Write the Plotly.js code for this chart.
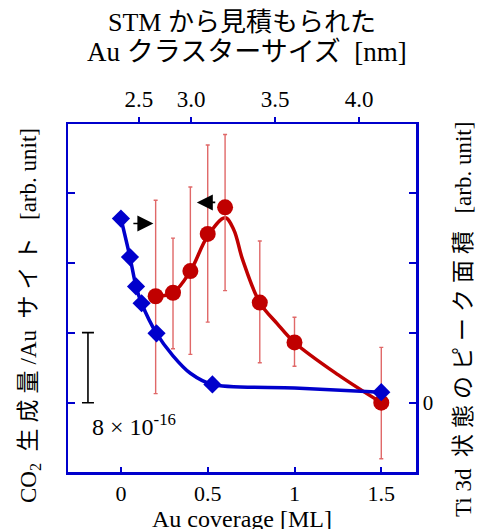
<!DOCTYPE html>
<html>
<head>
<meta charset="utf-8">
<script src="https://cdn.plot.ly/plotly-3.0.1.min.js"></script>
<style>html,body{margin:0;padding:0;background:#fff;}#chart{width:485px;height:529px;}</style>
</head>
<body>
<div id="chart"></div>
<script>
// CO2 production per Au site (red, left axis)
const co2Coverage = [0.2, 0.3, 0.4, 0.5, 0.6, 0.8, 1.0, 1.5];
const co2Value    = [1.52, 1.57, 1.88, 2.41, 2.79, 1.43, 0.86, 0.0];
const co2ErrPlus  = [1.37, 0.78, 1.20, 1.27, 1.04, 0.88, 0.36, 0.79];
const co2ErrMinus = [1.39, 0.80, 1.19, 1.26, 1.19, 0.86, 0.34, 0.80];
// guide curve drawn through the CO2 data
const co2FitCoverage = [0.2, 0.3, 0.4, 0.5, 0.6, 0.65, 0.7, 0.8, 0.9, 1.0, 1.25, 1.5];
const co2FitValue    = [1.52, 1.57, 1.88, 2.38, 2.64, 2.47, 2.05, 1.43, 1.13, 0.86, 0.40, 0.0];
// Ti 3d state peak area (blue, right axis)
const tiCoverage = [0.0, 0.052, 0.087, 0.119, 0.205, 0.527, 1.5];
const tiValue    = [2.63, 2.08, 1.66, 1.42, 0.99, 0.26, 0.15];
const tiFitCoverage = [0.0, 0.052, 0.087, 0.119, 0.205, 0.3, 0.4, 0.527, 1.0, 1.5];
const tiFitValue    = [2.63, 2.08, 1.66, 1.42, 0.99, 0.67, 0.42, 0.26, 0.21, 0.15];
// axes
const bottomTickVals = [0, 0.5, 1, 1.5];
const bottomTickText = ['0', '0.5', '1', '1.5'];
const clusterSizeCoverage = [0.104, 0.404, 0.889, 1.373];
const clusterSizeText = ['2.5', '3.0', '3.5', '4.0'];
const rightTickVals = [-1, 0, 1, 2, 3, 4];
const rightTickText = ['', '0', '', '', '', ''];
// scale bar (8 x 10^-16)
const scaleX = [-0.19];
const scaleY = [0.5];
const scaleHalf = [0.5];

const BLUE = '#0000cc';
const RED = '#c00000';
const SERIF = 'Liberation Serif, Times New Roman, Noto Sans CJK JP, serif';
const xr = [-0.305, 1.70];
const yr = [-0.99, 3.98];
const cjk = s => '<span style="font-size:23px;letter-spacing:6px">' + s + '</span>';
const SP = '\u2002';

const traces = [
  {x: co2FitCoverage, y: co2FitValue, mode: 'lines', line: {color: RED, width: 3.5, shape: 'spline', smoothing: 1}, hoverinfo: 'skip', xaxis: 'x', yaxis: 'y'},
  {x: co2Coverage, y: co2Value, mode: 'markers', marker: {color: RED, size: 16, symbol: 'circle'},
   error_y: {type: 'data', symmetric: false, array: co2ErrPlus, arrayminus: co2ErrMinus, color: '#e06868', thickness: 1.4, width: 2},
   xaxis: 'x', yaxis: 'y'},
  {x: tiFitCoverage, y: tiFitValue, mode: 'lines', line: {color: BLUE, width: 3.5, shape: 'spline', smoothing: 0.8}, hoverinfo: 'skip', xaxis: 'x2', yaxis: 'y2'},
  {x: tiCoverage, y: tiValue, mode: 'markers', marker: {color: BLUE, size: 14, symbol: 'diamond'}, xaxis: 'x2', yaxis: 'y2'},
  {x: scaleX, y: scaleY, mode: 'markers', marker: {opacity: 0, size: 1},
   error_y: {type: 'data', array: scaleHalf, color: '#000', thickness: 1.6, width: 6}, xaxis: 'x', yaxis: 'y'}
];

const layout = {
  width: 485, height: 529,
  margin: {l: 68, r: 69, t: 124, b: 57},
  showlegend: false,
  paper_bgcolor: '#fff', plot_bgcolor: '#fff',
  font: {family: SERIF, color: '#000'},
  xaxis: {range: xr, tickvals: bottomTickVals, ticktext: bottomTickText, ticks: 'inside', ticklen: 5, tickwidth: 2, tickcolor: BLUE,
          showline: true, linecolor: BLUE, linewidth: 2.5, mirror: false, showgrid: false, zeroline: false,
          tickfont: {size: 22, family: SERIF}},
  xaxis2: {range: xr, overlaying: 'x', side: 'top', tickvals: clusterSizeCoverage, ticktext: clusterSizeText, ticks: 'outside', ticklen: 5, tickwidth: 2, tickcolor: BLUE,
           showline: true, linecolor: BLUE, linewidth: 2.5, showgrid: false, zeroline: false, tickfont: {size: 23, family: SERIF}},
  yaxis: {range: yr, dtick: 1, tick0: 0, ticks: 'inside', ticklen: 7, tickwidth: 2, tickcolor: BLUE, showticklabels: false,
          showline: true, linecolor: BLUE, linewidth: 2.5, showgrid: false, zeroline: false},
  yaxis2: {range: yr, overlaying: 'y', side: 'right', tickvals: rightTickVals, ticktext: rightTickText, ticks: 'inside', ticklen: 7, tickwidth: 2, tickcolor: BLUE,
           showline: true, linecolor: BLUE, linewidth: 2.5, showgrid: false, zeroline: false, tickfont: {size: 21, family: SERIF}},
  annotations: [
    {xref: 'x', yref: 'y', x: 0.187, y: 2.56, ax: 0.063, ay: 2.56, axref: 'x', ayref: 'y', text: '', showarrow: true, arrowhead: 2, arrowsize: 2, arrowwidth: 1.6, arrowcolor: '#000'},
    {xref: 'x', yref: 'y', x: 0.437, y: 2.86, ax: 0.552, ay: 2.86, axref: 'x', ayref: 'y', text: '', showarrow: true, arrowhead: 2, arrowsize: 2, arrowwidth: 1.6, arrowcolor: '#000'},
    {xref: 'x', yref: 'y', x: 0.075, y: -0.32, text: '8 × 10<sup>-16</sup>', showarrow: false, xanchor: 'center', yanchor: 'middle', font: {size: 24, family: SERIF}},
    // top title (two lines)
    {xref: 'paper', yref: 'paper', x: 0.5, y: 1 + (124 - 23) / 348, text: 'STM から見積もられた', showarrow: false, xanchor: 'center', yanchor: 'middle', font: {size: 26, family: SERIF}},
    {xref: 'paper', yref: 'paper', x: 0.515, y: 1 + (124 - 52) / 348, text: 'Au クラスターサイズ' + SP + '[nm]', showarrow: false, xanchor: 'center', yanchor: 'middle', font: {size: 27, family: SERIF}},
    // bottom axis title
    {xref: 'paper', yref: 'paper', x: 0.5, y: -(519 - 472) / 348, text: 'Au coverage [ML]', showarrow: false, xanchor: 'center', yanchor: 'middle', font: {size: 24, family: SERIF}},
    // left axis title
    {xref: 'paper', yref: 'paper', x: (30 - 68) / 348, y: 1 - (316 - 124) / 348, xanchor: 'center', yanchor: 'middle', textangle: -90, showarrow: false,
     text: 'CO<sub>2</sub>' + SP + cjk('生成量') + '/Au' + SP + cjk('サイト') + SP + '[arb. unit]', font: {size: 23, family: SERIF}},
    // right axis title
    {xref: 'paper', yref: 'paper', x: (463 - 68) / 348, y: 1 - (320 - 124) / 348, xanchor: 'center', yanchor: 'middle', textangle: -90, showarrow: false,
     text: 'Ti 3d' + SP + cjk('状態のピーク面積') + SP + '[arb. unit]', font: {size: 23, family: SERIF}}
  ]
};

Plotly.newPlot('chart', traces, layout, {displayModeBar: false, staticPlot: true});
</script>
</body>
</html>
